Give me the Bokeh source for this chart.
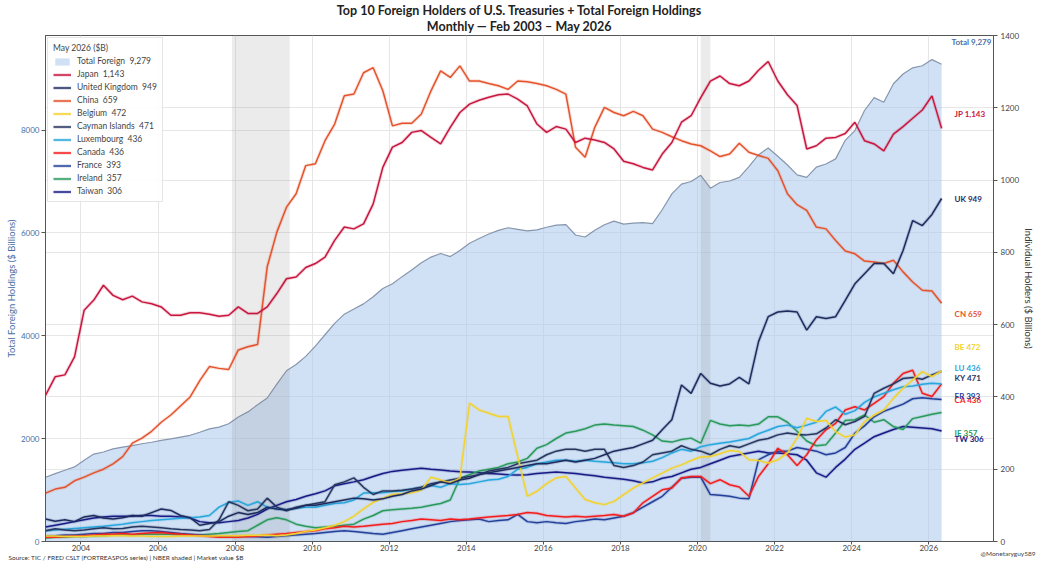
import pandas as pd
from bokeh.plotting import figure
from bokeh.models import (Range1d, LinearAxis, FixedTicker, Legend, LegendItem,
                          Label, Title, ColumnDataSource)
from bokeh.embed import file_html
from bokeh.resources import INLINE
from bokeh.core.properties import value

FONT = "Lato"

# quarterly observations (Feb, May, Aug, Nov), Feb 2003 - May 2026
dates = pd.date_range("2003-02-01", "2026-05-01", freq="3MS")
x = [d.year + (d.month - 1) / 12.0 for d in dates]

total = [
    1250, 1320, 1385, 1450,  1580, 1700, 1740, 1800,  1835, 1865, 1900, 1930,
    1965, 1995, 2030, 2065,  2125, 2190, 2225, 2290,  2420, 2520, 2660, 2790,
    3060, 3320, 3440, 3600,  3800, 4020, 4240, 4420,  4520, 4620, 4760, 4920,
    5010, 5150, 5280, 5420,  5530, 5600, 5540, 5660,  5800, 5890, 5980, 6050,
    6100, 6070, 6040, 6060,  6110, 6150, 6160, 5960,  5920, 6050, 6160, 6230,
    6170, 6190, 6200, 6180,  6450, 6760, 6950, 7000,  7120, 6870, 6980, 7010,
    7080, 7290, 7520, 7650,  7490, 7320, 7130, 7080,  7280, 7340, 7440, 7800,
    7990, 8380, 8630, 8540,  8900, 9090, 9210, 9250,  9370, 9279]

japan = [
    405, 456, 461, 511,  640, 668, 709, 681,  669, 679, 663, 658,
    649, 626, 626, 633,  633, 629, 623, 626,  649, 631, 631, 649,
    686, 727, 732, 758,  769, 787, 833, 870,  865, 879, 934, 1035,
    1091, 1104, 1132, 1137,  1118, 1100, 1146, 1187,  1210, 1221, 1229, 1236,
    1238, 1224, 1205, 1155,  1132, 1148, 1141, 1104,  1116, 1111, 1104, 1086,
    1052, 1045, 1035, 1028,  1072, 1104, 1160, 1178,  1228, 1274, 1288, 1267,
    1261, 1274, 1304, 1328,  1274, 1236, 1206, 1086,  1095, 1116, 1118, 1129,
    1160, 1109, 1100, 1081,  1127, 1148, 1171, 1194,  1233, 1143]

uk = [
    62, 56, 60, 55,  68, 72, 65, 62,  66, 72, 70, 80,
    90, 86, 72, 66,  45, 50, 55, 70,  80, 75, 80, 95,
    90, 88, 92, 100,  100, 105, 110, 115,  120, 118, 115, 118,
    125, 130, 140, 145,  155, 165, 160, 170,  175, 185, 190, 195,
    200, 205, 210, 215,  215, 220, 225, 220,  225, 230, 240, 250,
    255, 260, 270, 280,  309, 337, 433, 410,  465, 438, 430, 436,
    454, 436, 553, 622,  635, 638, 635, 585,  622, 617, 622, 667,
    713, 741, 769, 769,  741, 805, 888, 874,  905, 949]

china = [
    134, 145, 150, 168,  178, 190, 200, 215,  235, 272, 286, 305,
    330, 350, 375, 400,  445, 484, 479, 476,  530, 539, 545, 760,
    856, 925, 962, 1040,  1045, 1109, 1155, 1233,  1238, 1297, 1311, 1247,
    1150, 1157, 1157, 1183,  1247, 1302, 1284, 1316,  1274, 1274, 1267, 1261,
    1251, 1274, 1272, 1267,  1261, 1251, 1238, 1091,  1063, 1146, 1201, 1187,
    1178, 1190, 1178, 1141,  1132, 1120, 1109, 1100,  1095, 1081, 1065, 1072,
    1102, 1077, 1068, 1060,  1026, 962, 932, 916,  870, 865, 833, 804,
    796, 776, 773, 769,  778, 746, 718, 695,  693, 659]

belgium = [
    15, 15, 14, 14,  14, 15, 15, 16,  16, 15, 15, 14,
    14, 14, 15, 15,  15, 15, 16, 16,  16, 17, 17, 18,
    16, 18, 22, 28,  32, 38, 45, 55,  70, 90, 108, 120,
    130, 132, 135, 142,  178, 170, 162, 175,  383, 364, 355, 346,
    346, 235, 125, 139,  160, 176, 180, 148,  116, 107, 102, 111,
    130, 148, 162, 176,  189, 203, 212, 224,  234, 235, 243, 252,
    249, 226, 224, 217,  226, 245, 286, 341,  332, 335, 304, 289,
    295, 332, 350, 364,  396, 424, 447, 470,  456, 472]

cayman = [
    30, 35, 32, 30,  32, 35, 38, 35,  36, 40, 42, 40,
    38, 35, 33, 32,  30, 33, 60, 110,  100, 85, 90, 120,
    95, 85, 95, 100,  105, 110, 157, 165,  176, 150, 130, 140,
    140, 142, 145, 150,  160, 165, 170, 175,  180, 185, 195, 200,
    205, 215, 220, 225,  240, 250, 255, 255,  250, 255, 255, 210,
    205, 210, 220, 240,  245, 250, 265, 255,  250, 240, 255, 265,
    260, 270, 280, 285,  295, 300, 296, 295,  298, 314, 337, 323,
    332, 346, 410, 424,  436, 451, 454, 449,  461, 471]

luxembourg = [
    30, 32, 34, 36,  38, 40, 42, 45,  48, 52, 55, 58,
    60, 62, 64, 66,  68, 72, 95, 108,  112, 100, 110, 95,
    90, 88, 92, 95,  95, 100, 105, 107,  115, 134, 135, 135,
    138, 140, 145, 150,  155, 150, 160, 158,  160, 165, 170, 172,
    180, 200, 205, 215,  220, 225, 225, 222,  225, 222, 220, 218,
    215, 215, 218, 222,  232, 245, 255, 250,  262, 268, 272, 275,
    280, 285, 298, 308,  318, 322, 315, 322,  330, 360, 372, 352,
    362, 385, 400, 410,  420, 428, 430, 435,  438, 436]

canada = [
    12, 12, 14, 15,  16, 18, 20, 20,  22, 20, 22, 24,
    25, 22, 20, 18,  16, 14, 12, 12,  12, 14, 15, 18,
    20, 22, 25, 28,  30, 35, 38, 42,  40, 42, 45, 48,
    50, 55, 58, 62,  60, 58, 62, 60,  62, 65, 68, 70,
    72, 75, 80, 78,  72, 70, 68, 70,  68, 70, 72, 75,
    70, 79, 107, 125,  143, 148, 176, 180,  180, 160, 171, 157,
    151, 125, 180, 215,  258, 240, 210, 240,  281, 309, 327, 364,
    373, 364, 382, 401,  438, 465, 474, 410,  401, 436]

france = [
    15, 16, 18, 18,  20, 22, 22, 25,  25, 28, 30, 30,
    28, 25, 22, 20,  18, 16, 15, 15,  15, 14, 13, 12,
    14, 16, 18, 20,  22, 25, 28, 30,  28, 25, 22, 20,
    25, 30, 35, 40,  45, 50, 55, 58,  60, 62, 55, 58,
    60, 75, 55, 52,  55, 52, 50, 55,  58, 62, 60, 65,
    70, 80, 95, 110,  125, 150, 175, 178,  178, 130, 128, 125,
    120, 118, 226, 240,  250, 250, 260, 255,  250, 240, 245, 260,
    300, 320, 345, 360,  370, 380, 395, 398,  395, 393]

ireland = [
    10, 12, 12, 14,  14, 15, 16, 18,  18, 18, 20, 20,
    20, 20, 18, 18,  18, 20, 22, 25,  28, 30, 45, 60,
    66, 60, 48, 42,  38, 40, 42, 45,  48, 62, 72, 85,
    88, 90, 92, 95,  100, 105, 115, 175,  185, 195, 200, 205,
    215, 220, 230, 258,  268, 285, 300, 305,  312, 322, 325, 322,
    320, 318, 308, 295,  278, 275, 282, 286,  272, 335, 325, 320,
    322, 320, 325, 345,  345, 330, 305, 278,  265, 268, 300, 335,
    337, 350, 330, 337,  318, 310, 340, 346,  352, 357]

taiwan = [
    40, 45, 50, 55,  60, 65, 68, 70,  70, 70, 72, 72,
    70, 70, 68, 65,  55, 52, 52, 55,  58, 65, 75, 90,
    100, 110, 116, 125,  132, 140, 154, 160,  165, 171, 180, 188,
    194, 197, 200, 203,  200, 198, 195, 193,  192, 190, 188, 187,
    185, 184, 185, 188,  190, 192, 190, 188,  185, 182, 178, 175,
    172, 168, 162, 165,  175, 180, 190, 200,  205, 215, 225, 235,
    240, 245, 250, 245,  245, 243, 240, 225,  190, 178, 205, 228,
    255, 272, 290, 300,  310, 318, 316, 314,  312, 306]

recessions = [(2007 + 11 / 12, 2009 + 5 / 12), (2020 + 1 / 12, 2020 + 4 / 12)]

x_ticks = list(range(2004, 2027, 2))
left_ticks = [0, 2000, 4000, 6000, 8000]
right_ticks = [0, 200, 400, 600, 800, 1000, 1200, 1400]

# name, short code, values, colour, end-label nudge (right-axis units)
series = [
    ("Japan", "JP", japan, "#c8163f", 40),
    ("United Kingdom", "UK", uk, "#1e2b5e", 0),
    ("China", "CN", china, "#e5532d", -30),
    ("Belgium", "BE", belgium, "#f3d22f", 66),
    ("Cayman Islands", "KY", cayman, "#26365f", -19),
    ("Luxembourg", "LU", luxembourg, "#28a6de", 44),
    ("Canada", "CA", canada, "#f51c1c", -44),
    ("France", "FR", france, "#24409a", 10),
    ("Ireland", "IE", ireland, "#2a9a5c", -56),
    ("Taiwan", "TW", taiwan, "#181a86", -22),
]

LEFT_MAX = max(total) * 1.05
RIGHT_MAX = 1400
BLUE_TXT = "#4a6fa5"

p = figure(width=1038, height=567, output_backend="svg", toolbar_location=None,
           x_range=Range1d(2003.08, 2027.68), y_range=Range1d(0, LEFT_MAX),
           min_border_left=45, min_border_right=45, min_border_top=0,
           min_border_bottom=0, background_fill_color="white",
           border_fill_color="white")
p.extra_y_ranges = {"ind": Range1d(0, RIGHT_MAX)}
p.outline_line_color = "#555555"

# titles (first added sits closest to the frame)
p.add_layout(Title(text="Monthly \u2014 Feb 2003 \u2013 May 2026", align="center",
                   text_font=FONT, text_font_size="12.5px", text_font_style="bold",
                   text_color="#222222", standoff=1, vertical_align="middle"), "above")
p.add_layout(Title(text="Top 10 Foreign Holders of U.S. Treasuries + Total Foreign Holdings",
                   align="center", text_font=FONT, text_font_size="12.5px",
                   text_font_style="bold", text_color="#222222", standoff=0), "above")

# total foreign holdings area
area = p.varea(x=x, y1=0, y2=total, fill_color="#a9c8ec", fill_alpha=0.55)
p.line(x, total, line_color="#8796ad", line_width=1.2)

# NBER recessions
p.quad(left=[r[0] for r in recessions], right=[r[1] for r in recessions],
       bottom=0, top=LEFT_MAX, fill_color="#808080", fill_alpha=0.16,
       line_alpha=0)

items = [LegendItem(label=f"Total Foreign  {total[-1]:,}", renderers=[area])]
rend = {}
for name, code, vals, col, _ in reversed(series):
    g = p.line(x, vals, y_range_name="ind", line_color=col, line_width=3.4,
               line_alpha=0.18)
    m = p.line(x, vals, y_range_name="ind", line_color=col, line_width=1.5)
    rend[name] = [g, m]
for name, code, vals, col, _ in series:
    items.append(LegendItem(label=f"{name}  {vals[-1]:,}", renderers=rend[name]))

# end labels
lab = ColumnDataSource(dict(
    x=[x[-1]] * len(series),
    y=[s[2][-1] + s[4] for s in series],
    t=[f"{s[1]} {s[2][-1]:,}" for s in series],
    c=[s[3] for s in series]))
p.text(x="x", y="y", text="t", text_color="c", source=lab, y_range_name="ind",
       x_offset=13, text_font=value(FONT), text_font_style="bold",
       text_font_size="8px", text_baseline="middle", text_align="left")
p.text(x=[x[-1]], y=[total[-1] + 436], text=[f"Total {total[-1]:,}"],
       x_offset=10, text_color=BLUE_TXT, text_font=value(FONT),
       text_font_style="bold", text_font_size="8px", text_baseline="middle",
       text_align="left")

# axes
xa = p.below[0]
xa.ticker = FixedTicker(ticks=x_ticks)
ya = p.left[0]
ya.ticker = FixedTicker(ticks=left_ticks)
ya.axis_label = "Total Foreign Holdings ($ Billions)"
ya.axis_label_text_color = BLUE_TXT
ya.major_label_text_color = BLUE_TXT
ra = LinearAxis(y_range_name="ind", ticker=FixedTicker(ticks=right_ticks),
                axis_label="Individual Holders ($ Billions)")
p.add_layout(ra, "right")
for ax in (xa, ya, ra):
    ax.axis_line_color = "#555555"
    ax.major_tick_line_color = "#555555"
    ax.minor_tick_line_color = None
    ax.major_tick_out = 4
    ax.major_tick_in = 0
    ax.major_label_text_font = FONT
    ax.major_label_text_font_size = "8px"
    ax.major_label_standoff = 2
    ax.axis_label_text_font = FONT
    ax.axis_label_text_font_size = "9.5px"
    ax.axis_label_text_font_style = "normal"
    ax.axis_label_standoff = 1
xa.major_label_text_color = "#444444"
xa.major_tick_out = 3
xa.major_label_standoff = 0
ra.major_label_text_color = "#444444"
ra.axis_label_text_color = "#333333"
ra.major_label_standoff = 3

p.xgrid.ticker = FixedTicker(ticks=x_ticks)
p.ygrid.ticker = FixedTicker(ticks=left_ticks + [v * LEFT_MAX / RIGHT_MAX for v in right_ticks[1:]])
p.xgrid.grid_line_color = "#e6e6e6"
p.ygrid.grid_line_color = "#e6e6e6"

legend = Legend(items=items, location="top_left", title="May 2026 ($B)")
legend.label_text_font = FONT
legend.label_text_font_size = "8.5px"
legend.title_text_font = FONT
legend.title_text_font_size = "8.5px"
legend.title_text_font_style = "normal"
legend.title_standoff = 3
legend.glyph_width = 18
legend.glyph_height = 9
legend.label_height = 9
legend.spacing = 3
legend.padding = 5
legend.margin = 2
legend.label_standoff = 6
legend.border_line_color = "#cccccc"
legend.background_fill_alpha = 0.92
p.add_layout(legend)

# footer texts in the bottom panel (each sits in its own thin slot)
p.add_layout(Label(x=-37, y=3, x_units="screen", y_units="screen",
                   text="Source: TIC / FRED CSLT (FORTREASPOS series) | NBER shaded | Market value $B",
                   text_align="left", text_baseline="middle", text_font=FONT,
                   text_font_size="6.5px", text_color="#333333"), "below")
p.add_layout(Label(x=990, y=14, x_units="screen", y_units="screen",
                   text="@Monetaryguy589", text_align="right", text_baseline="middle",
                   text_font=FONT, text_font_size="6.5px", text_color="#444444"), "below")

open("out.html", "w").write(file_html(p, INLINE))
